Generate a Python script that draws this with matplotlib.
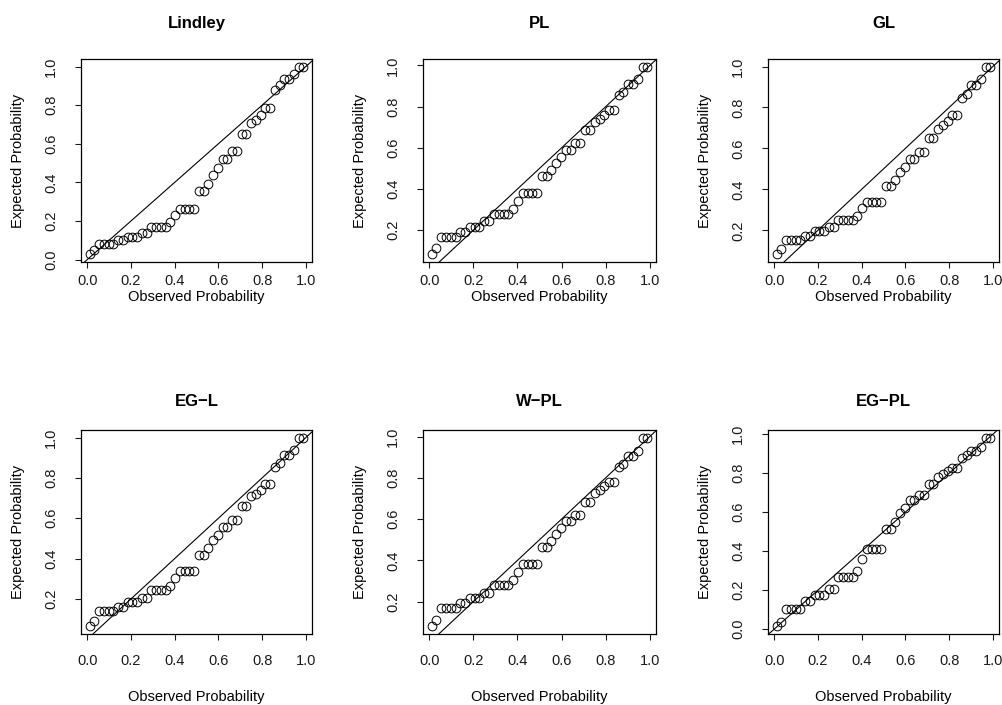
import matplotlib
matplotlib.use("Agg")
import matplotlib.pyplot as plt
from matplotlib.ticker import MultipleLocator, FormatStrFormatter

plt.rcParams['font.family'] = ['Liberation Sans', 'DejaVu Sans']

# empirical probabilities of the ordered sample (n = 46)
observed = [0.011, 0.033, 0.054, 0.076, 0.098, 0.120, 0.141, 0.163, 0.185, 0.207,
            0.228, 0.250, 0.272, 0.293, 0.315, 0.337, 0.359, 0.380, 0.402, 0.424,
            0.446, 0.467, 0.489, 0.511, 0.533, 0.554, 0.576, 0.598, 0.620, 0.641,
            0.663, 0.685, 0.707, 0.728, 0.750, 0.772, 0.793, 0.815, 0.837, 0.859,
            0.880, 0.902, 0.924, 0.946, 0.967, 0.989]

# fitted cdf values for each model
lindley = [0.027, 0.051, 0.082, 0.082, 0.082, 0.082, 0.100, 0.100, 0.116, 0.116,
           0.116, 0.137, 0.137, 0.170, 0.170, 0.170, 0.170, 0.193, 0.231, 0.265,
           0.265, 0.265, 0.265, 0.356, 0.356, 0.390, 0.438, 0.475, 0.521, 0.521,
           0.561, 0.561, 0.650, 0.650, 0.706, 0.723, 0.749, 0.783, 0.783, 0.880,
           0.903, 0.937, 0.937, 0.962, 1.000, 1.000]
pl = [0.082, 0.114, 0.166, 0.166, 0.166, 0.166, 0.190, 0.190, 0.216, 0.216,
      0.216, 0.243, 0.243, 0.280, 0.280, 0.280, 0.280, 0.303, 0.343, 0.380,
      0.380, 0.380, 0.380, 0.464, 0.464, 0.493, 0.528, 0.554, 0.589, 0.589,
      0.625, 0.625, 0.686, 0.686, 0.726, 0.742, 0.758, 0.783, 0.783, 0.855,
      0.871, 0.911, 0.911, 0.936, 0.995, 0.995]
gl = [0.082, 0.110, 0.151, 0.151, 0.151, 0.151, 0.174, 0.174, 0.195, 0.195,
      0.195, 0.214, 0.214, 0.251, 0.251, 0.251, 0.251, 0.270, 0.308, 0.337,
      0.337, 0.337, 0.337, 0.417, 0.417, 0.444, 0.485, 0.509, 0.549, 0.549,
      0.581, 0.581, 0.650, 0.650, 0.694, 0.715, 0.734, 0.762, 0.762, 0.847,
      0.866, 0.911, 0.911, 0.940, 1.000, 1.000]
eg_l = [0.064, 0.089, 0.139, 0.139, 0.139, 0.139, 0.160, 0.160, 0.183, 0.183,
        0.183, 0.205, 0.205, 0.246, 0.246, 0.246, 0.246, 0.266, 0.304, 0.337,
        0.337, 0.337, 0.337, 0.419, 0.419, 0.452, 0.493, 0.518, 0.559, 0.559,
        0.592, 0.592, 0.662, 0.662, 0.708, 0.721, 0.741, 0.769, 0.769, 0.853,
        0.873, 0.914, 0.914, 0.939, 1.000, 1.000]
w_pl = [0.080, 0.111, 0.168, 0.168, 0.168, 0.168, 0.192, 0.192, 0.218, 0.218,
        0.218, 0.243, 0.243, 0.282, 0.282, 0.282, 0.282, 0.305, 0.345, 0.381,
        0.381, 0.381, 0.381, 0.464, 0.464, 0.492, 0.528, 0.555, 0.590, 0.590,
        0.622, 0.622, 0.684, 0.684, 0.725, 0.742, 0.758, 0.781, 0.781, 0.851,
        0.868, 0.908, 0.908, 0.932, 0.995, 0.995]
eg_pl = [0.014, 0.039, 0.103, 0.103, 0.103, 0.103, 0.142, 0.142, 0.173, 0.173,
         0.173, 0.205, 0.205, 0.270, 0.270, 0.270, 0.270, 0.299, 0.359, 0.410,
         0.410, 0.410, 0.410, 0.513, 0.513, 0.552, 0.595, 0.621, 0.663, 0.663,
         0.689, 0.689, 0.745, 0.745, 0.779, 0.795, 0.809, 0.826, 0.826, 0.877,
         0.894, 0.915, 0.915, 0.933, 0.983, 0.983]

titles = ['Lindley', 'PL', 'GL', 'EG\u2212L', 'W\u2212PL', 'EG\u2212PL']
expected = [lindley, pl, gl, eg_l, w_pl, eg_pl]

W, H = 1003, 705
# plot boxes in pixels: left, top, right, bottom
boxes = [(81, 59, 312, 262), (423, 59, 656, 262), (768, 59, 999, 262),
         (81, 430, 312, 634), (423, 430, 656, 634), (768, 430, 999, 634)]

fig = plt.figure(figsize=(W / 100, H / 100), dpi=100)


def r_range(v):
    lo, hi = min(v), max(v)
    pad = 0.04 * (hi - lo)
    return lo - pad, hi + pad


for i, (title, y) in enumerate(zip(titles, expected)):
    l, t, r, b = boxes[i]
    ax = fig.add_axes([l / W, 1 - b / H, (r - l) / W, (b - t) / H])
    ax.plot(observed, y, 'o', ms=6.3, mfc='none', mec='black', mew=0.7)
    ax.axline((0, 0), (1, 1), color='black', lw=0.8)
    ax.set_xlim(*r_range(observed))
    ax.set_ylim(*r_range(y))
    ax.xaxis.set_major_locator(MultipleLocator(0.2))
    ax.yaxis.set_major_locator(MultipleLocator(0.2))
    ax.xaxis.set_major_formatter(FormatStrFormatter('%.1f'))
    ax.yaxis.set_major_formatter(FormatStrFormatter('%.1f'))
    top_row = i < 3
    ax.tick_params(axis='both', direction='out', length=4.5, width=0.8,
                   labelsize=10.5, colors='#1a1a1a')
    ax.tick_params(axis='x', pad=4 if top_row else 10)
    ax.tick_params(axis='y', pad=12, labelrotation=90)
    for lab in ax.get_yticklabels():
        lab.set_va('center')
    for s in ax.spines.values():
        s.set_linewidth(0.9)
    ax.set_title(title, fontweight='bold', fontsize=12, pad=22 if top_row else 17)
    ax.set_xlabel('Observed Probability', fontsize=10.5)
    ax.set_ylabel('Expected Probability', fontsize=10.5)
    lab_y = (35 if top_row else 63) / (b - t)
    ax.xaxis.set_label_coords(0.5, -lab_y)
    ax.xaxis.label.set_va('center')
    ax.yaxis.set_label_coords(-63 / (r - l), 0.5)
    ax.yaxis.label.set_ha('center')
    ax.yaxis.label.set_va('center')

fig.savefig('out.png', dpi=100)
